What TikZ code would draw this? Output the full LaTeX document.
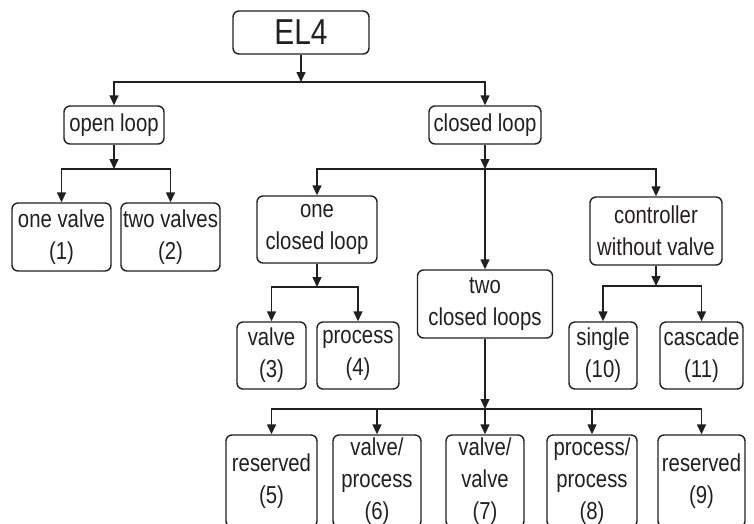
\documentclass[tikz,border=0pt]{standalone}
\usepackage{fontspec}
\setmainfont{Liberation Sans}[FakeStretch=0.83]
\usetikzlibrary{arrows.meta}
\definecolor{ink}{HTML}{231F20}
\begin{document}
\begin{tikzpicture}[x=1pt,y=-1pt,
  box/.style={draw=ink, text=ink, line width=1.4pt, rounded corners=6pt, inner sep=0pt,
    align=center, font=\fontsize{24.5}{32}\selectfont},
  arr/.style={draw=ink, line width=1.4pt, -{Triangle[length=10pt,width=9pt]}}]
\useasboundingbox (0,0) rectangle (754,523);
\clip (0,0) rectangle (754,523);
% nodes
\node[box, minimum width=136pt, minimum height=43pt, font=\fontsize{36}{40}\selectfont] (el4) at (301,32.5) {EL4};
\node[box, minimum width=100pt, minimum height=38pt] (open) at (114,125) {open loop};
\node[box, minimum width=112pt, minimum height=38pt] (closed) at (485,125) {closed loop};
\node[box, minimum width=99pt, minimum height=68pt] (onevalve) at (61.5,237) {one valve\\(1)};
\node[box, minimum width=99pt, minimum height=68pt] (twovalves) at (170.5,237) {two valves\\(2)};
\node[box, minimum width=120pt, minimum height=67pt] (oneclosed) at (317,229.5) {one\\closed loop};
\node[box, minimum width=135pt, minimum height=68pt] (twoclosed) at (485,304) {two\\closed loops};
\node[box, minimum width=132pt, minimum height=68pt] (controller) at (656,231) {controller\\without valve};
\node[box, minimum width=69pt, minimum height=67pt] (valve) at (271.5,355.5) {valve\\(3)};
\node[box, minimum width=82pt, minimum height=67pt] (process) at (358,355.5) {process\\(4)};
\node[box, minimum width=68pt, minimum height=67pt] (single) at (603,355.5) {single\\(10)};
\node[box, minimum width=83pt, minimum height=67pt] (cascade) at (701.5,355.5) {cascade\\(11)};
\node[box, minimum width=91pt, minimum height=92pt] (r5) at (271.5,481) {reserved\\(5)};
\node[box, minimum width=88pt, minimum height=92pt] (vp6) at (377,481) {valve/\\process\\(6)};
\node[box, minimum width=78pt, minimum height=92pt] (vv7) at (485,481) {valve/\\valve\\(7)};
\node[box, minimum width=90pt, minimum height=92pt] (pp8) at (592,481) {process/\\process\\(8)};
\node[box, minimum width=87pt, minimum height=92pt] (r9) at (701.5,481) {reserved\\(9)};
% bus points
\coordinate (b0) at (301,82);
\coordinate (b1) at (114,169);
\coordinate (b2) at (485,169);
\coordinate (b3) at (317,287);
\coordinate (b4) at (656,286);
\coordinate (b5) at (485,409);
% connectors
\draw[arr] (el4.south) -- (b0);
\draw[arr] (b0) -| (open.north);
\draw[arr] (b0) -| (closed.north);
\draw[arr] (open.south) -- (b1);
\draw[arr] (b1) -| (onevalve.north);
\draw[arr] (b1) -| (twovalves.north);
\draw[arr] (closed.south) -- (b2);
\draw[arr] (b2) -| (oneclosed.north);
\draw[arr] (b2) -| (controller.north);
\draw[arr] (b2) -- (twoclosed.north);
\draw[arr] (oneclosed.south) -- (b3);
\draw[arr] (b3) -| (valve.north);
\draw[arr] (b3) -| (process.north);
\draw[arr] (controller.south) -- (b4);
\draw[arr] (b4) -| (single.north);
\draw[arr] (b4) -| (cascade.north);
\draw[arr] (twoclosed.south) -- (b5);
\draw[arr] (b5) -| (r5.north);
\draw[arr] (b5) -| (vp6.north);
\draw[arr] (b5) -- (vv7.north);
\draw[arr] (b5) -| (pp8.north);
\draw[arr] (b5) -| (r9.north);
\end{tikzpicture}
\end{document}
